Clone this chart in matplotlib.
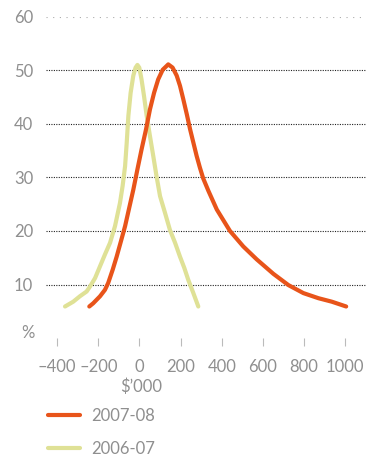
import matplotlib
matplotlib.use("Agg")
import matplotlib.pyplot as plt

# data
x_0708 = [-244, -225, -192, -168, -152, -130, -111, -90, -70, -50, -30, -10, 10, 32, 51, 71, 91, 113, 140, 161,
          181, 197, 213, 230, 246, 262, 278, 294, 310, 335, 376, 440, 505, 570, 651, 724, 797, 870, 935, 1005]
y_0708 = [5.9, 6.5, 7.8, 9.0, 10.3, 12.8, 15.2, 18.1, 20.9, 24.3, 27.7, 31.5, 35.2, 39.0, 42.7, 45.8, 48.3, 50.1, 51.1, 50.5,
          49.0, 47.1, 44.6, 41.8, 39.0, 36.5, 34.0, 31.8, 29.8, 27.5, 24.0, 20.0, 17.1, 14.7, 12.0, 9.9, 8.4, 7.45, 6.8, 5.9]
x_0607 = [-362, -322, -290, -257, -241, -216, -192, -168, -143, -119, -95, -82, -70, -62, -54, -43, -30, -19, -10, -1,
          10, 22, 35, 51, 67, 83, 100, 124, 148, 173, 197, 218, 237, 262, 286]
y_0607 = [5.9, 6.8, 7.8, 8.7, 9.6, 11.2, 13.4, 15.6, 17.8, 20.9, 25.2, 28.4, 32.1, 36.5, 41.5, 45.8, 49.0, 50.5, 51.0, 50.5,
          48.3, 45.2, 41.5, 37.7, 34.0, 30.2, 26.5, 23.4, 20.2, 17.8, 15.2, 13.1, 10.9, 8.4, 5.9]
xticks = [-400, -200, 0, 200, 400, 600, 800, 1000]
xtick_labels = ["\u2013400", "\u2013200", "0", "200", "400", "600", "800", "1000"]
yticks = [10, 20, 30, 40, 50, 60]
series_labels = ["2007-08", "2006-07"]

ORANGE = "#E8541A"
YELLOW = "#DFE196"
GREY = "#8f8f8f"
FONT = ["Lato", "DejaVu Sans"]
FS = 12

plt.rcParams["font.family"] = FONT
plt.rcParams["font.weight"] = "normal"

W, H = 381, 459
fig = plt.figure(figsize=(W / 100, H / 100), dpi=100)
ax = fig.add_axes([45.7 / W, 1 - 338.1 / H, (365.7 - 45.7) / W, (338.1 - 16.7) / H])
ax.set_xlim(-456, 1100)
ax.set_ylim(0, 60)

for s in ax.spines.values():
    s.set_visible(False)

# gridlines
for yv in yticks:
    if yv == 60:
        ax.axhline(yv, color="#aaaaaa", lw=0.8, ls=(0, (1, 5)), zorder=0)
    else:
        ax.axhline(yv, color="#222222", lw=0.8, ls=(0, (1, 1.2)), zorder=0)

l1, = ax.plot(x_0708, y_0708, color=ORANGE, lw=3.0, solid_capstyle="round", solid_joinstyle="round",
              label=series_labels[0], zorder=3)
l2, = ax.plot(x_0607, y_0607, color=YELLOW, lw=3.0, solid_capstyle="round", solid_joinstyle="round",
              label=series_labels[1], zorder=2)

ax.set_yticks(yticks)
ax.set_yticklabels([str(v) for v in yticks])
ax.tick_params(axis="y", length=0, pad=9, labelsize=FS, labelcolor=GREY)
ax.text(-0.035, 0.9, "%", transform=ax.get_yaxis_transform(), ha="right", va="center",
        fontsize=FS, color=GREY)

ax.set_xticks(xticks)
ax.set_xticklabels(xtick_labels)
ax.tick_params(axis="x", length=6, width=0.8, color="#bbbbbb", pad=9, labelsize=FS, labelcolor=GREY)

fig.text(141 / W, 1 - 387 / H, "$\u2019000", ha="center", va="center", fontsize=FS, color=GREY)

leg = fig.legend(handles=[l1, l2], loc="upper left", bbox_to_anchor=(48 / W, 1 - 408 / H),
                 frameon=False, borderpad=0, borderaxespad=0, handlelength=1.9,
                 handletextpad=0.7, labelspacing=1.0, fontsize=FS)
for t in leg.get_texts():
    t.set_color(GREY)

fig.savefig("out.png", dpi=100)
